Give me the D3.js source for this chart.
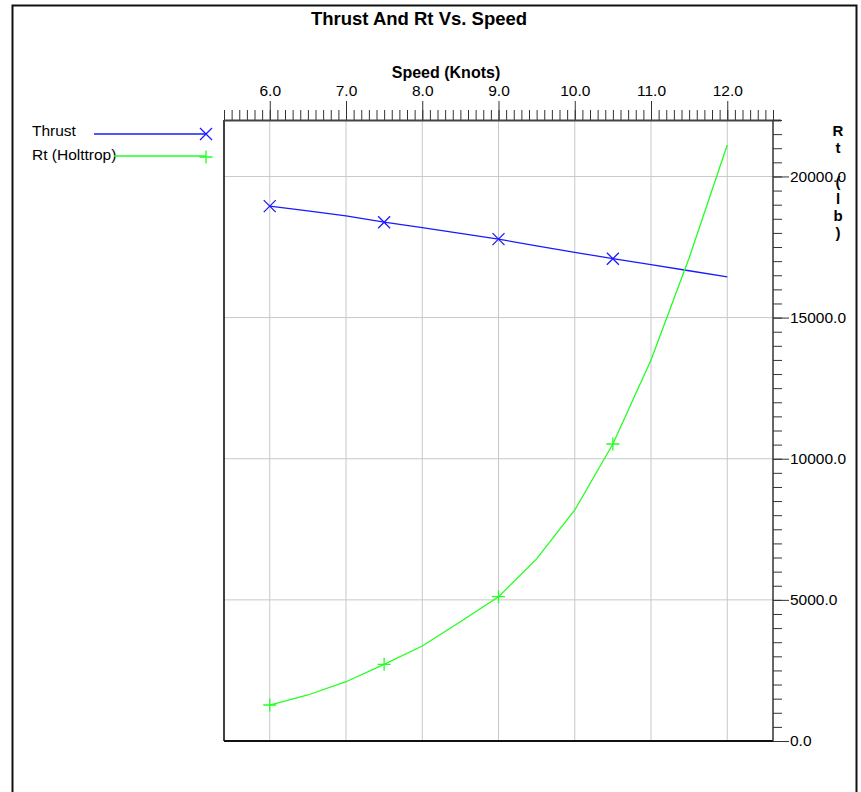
<!DOCTYPE html>
<html>
<head>
<meta charset="utf-8">
<script src="https://cdn.jsdelivr.net/npm/d3@7/dist/d3.min.js"></script>
<style>
  html, body { margin: 0; padding: 0; background: #fff; }
  svg { display: block; font-family: "Liberation Sans", Arial, sans-serif; }
</style>
</head>
<body>
<svg id="chart" width="861" height="792"></svg>
<script>
// ---- data ----
const speeds = [6.0, 6.5, 7.0, 7.5, 8.0, 8.5, 9.0, 9.5, 10.0, 10.5, 11.0, 11.5, 12.0];
const thrust = [18950, 18780, 18600, 18380, 18185, 17980, 17780, 17540, 17313, 17086, 16874, 16660, 16445];
const rtHoltrop = [1275, 1630, 2100, 2717, 3366, 4226, 5112, 6450, 8184, 10522, 13498, 17110, 21115];
const markerIdx = [0, 3, 6, 9];
const xTickValues = [6, 7, 8, 9, 10, 11, 12];
const yTickValues = [0, 5000, 10000, 15000, 20000];
const seriesNames = ["Thrust", "Rt (Holttrop)"];
const titleText = "Thrust And Rt Vs. Speed";
const xTitle = "Speed (Knots)";
const yTitle = "Rt (lb)";

// ---- layout ----
const L = 224, R = 773, T = 120, B = 741;
const svg = d3.select("#chart");
const x = d3.scaleLinear().domain([5.4, 12.6]).range([L, R]);
const y = d3.scaleLinear().domain([0, 22000]).range([B, T]);
const blue = "#1a1aff", green = "#22ff22";

// outer border
svg.append("path").attr("d", `M12.5,800 V5.5 H856.5 V800`)
  .attr("fill", "none").attr("stroke", "#111").attr("stroke-width", 2);

// title
svg.append("text").attr("x", 419).attr("y", 25).attr("text-anchor", "middle")
  .attr("font-weight", "bold").attr("font-size", 18.5).text(titleText);

// grid
svg.append("g").selectAll("line").data(xTickValues).join("line")
  .attr("x1", d => x(d)).attr("x2", d => x(d)).attr("y1", T).attr("y2", B)
  .attr("stroke", "#c8c8c8").attr("stroke-width", 1);
svg.append("g").selectAll("line").data(yTickValues.filter(d => d > 0)).join("line")
  .attr("x1", L).attr("x2", R).attr("y1", d => y(d)).attr("y2", d => y(d))
  .attr("stroke", "#c8c8c8").attr("stroke-width", 1);

// plot frame left & bottom
svg.append("line").attr("x1", L).attr("x2", L).attr("y1", T).attr("y2", B)
  .attr("stroke", "#000").attr("stroke-width", 1.5);
svg.append("line").attr("x1", L).attr("x2", R).attr("y1", B).attr("y2", B)
  .attr("stroke", "#111").attr("stroke-width", 2);

// top axis: minor
const minorX = d3.range(54, 127).map(d => d / 10);
const gxMinor = svg.append("g").attr("transform", `translate(0,${T})`)
  .call(d3.axisTop(x).tickValues(minorX).tickSize(10).tickFormat(""));
gxMinor.select(".domain").remove();
gxMinor.selectAll("line").attr("stroke", "#333");
const gxMajor = svg.append("g").attr("transform", `translate(0,${T})`)
  .call(d3.axisTop(x).tickValues(xTickValues).tickSize(19).tickPadding(5).tickFormat(d3.format(".1f")));
gxMajor.select(".domain").remove();
gxMajor.selectAll("line").attr("stroke", "#333");
gxMajor.selectAll("text").attr("font-size", 15.5).attr("fill", "#000")
  .attr("font-family", "'Liberation Sans', Arial, sans-serif");
svg.append("line").attr("x1", L).attr("x2", 781).attr("y1", T + 0.5).attr("y2", T + 0.5)
  .attr("stroke", "#444").attr("stroke-width", 2);
svg.append("text").attr("x", 446).attr("y", 78).attr("text-anchor", "middle")
  .attr("font-weight", "bold").attr("font-size", 16).text(xTitle);

// right axis
const minorY = d3.range(0, 22001, 500);
const gyMinor = svg.append("g").attr("transform", `translate(${R},0)`)
  .call(d3.axisRight(y).tickValues(minorY).tickSize(9).tickFormat(""));
gyMinor.select(".domain").remove();
gyMinor.selectAll("line").attr("stroke", "#333");
const gyMajor = svg.append("g").attr("transform", `translate(${R},0)`)
  .call(d3.axisRight(y).tickValues(yTickValues).tickSize(16).tickPadding(1).tickFormat(d3.format(".1f")));
gyMajor.select(".domain").remove();
gyMajor.selectAll("line").attr("stroke", "#333");
gyMajor.selectAll("text").attr("font-size", 15.5).attr("fill", "#000")
  .attr("font-family", "'Liberation Sans', Arial, sans-serif");
svg.append("line").attr("x1", R).attr("x2", R).attr("y1", T).attr("y2", B)
  .attr("stroke", "#333").attr("stroke-width", 1.5);

// vertical stacked axis title
const yt = svg.append("text").attr("text-anchor", "middle").attr("font-weight", "bold").attr("font-size", 15);
yTitle.split("").forEach((c, i) => {
  yt.append("tspan").attr("x", 838).attr("y", 136 + i * 17).text(c === " " ? "\u00a0" : c);
});

// lines
const line = vals => d3.line().x((d, i) => x(speeds[i])).y(d => y(d))(vals);
svg.append("path").attr("d", line(thrust)).attr("fill", "none").attr("stroke", blue).attr("stroke-width", 1.3);
svg.append("path").attr("d", line(rtHoltrop)).attr("fill", "none").attr("stroke", green).attr("stroke-width", 1.3);

const xMark = (g, cx, cy, s, col) => g.append("path")
  .attr("d", `M${cx - s},${cy - s}L${cx + s},${cy + s}M${cx - s},${cy + s}L${cx + s},${cy - s}`)
  .attr("stroke", col).attr("stroke-width", 1.3).attr("fill", "none");
const plusMark = (g, cx, cy, s, col) => g.append("path")
  .attr("d", `M${cx - s},${cy}L${cx + s},${cy}M${cx},${cy - s}L${cx},${cy + s}`)
  .attr("stroke", col).attr("stroke-width", 1.3).attr("fill", "none");

const mg = svg.append("g");
markerIdx.forEach(i => {
  xMark(mg, x(speeds[i]), y(thrust[i]), 6, blue);
  plusMark(mg, x(speeds[i]), y(rtHoltrop[i]), 6.5, green);
});

// legend
svg.append("text").attr("x", 32).attr("y", 136).attr("font-size", 15.5).text(seriesNames[0]);
svg.append("line").attr("x1", 94).attr("x2", 206).attr("y1", 134).attr("y2", 134).attr("stroke", blue).attr("stroke-width", 1.3);
xMark(svg, 206, 134, 6, blue);
svg.append("text").attr("x", 32).attr("y", 160).attr("font-size", 15.5).text(seriesNames[1]);
svg.append("line").attr("x1", 114).attr("x2", 206).attr("y1", 156).attr("y2", 156).attr("stroke", green).attr("stroke-width", 1.3);
plusMark(svg, 206, 157, 6.5, green);
</script>
</body>
</html>
